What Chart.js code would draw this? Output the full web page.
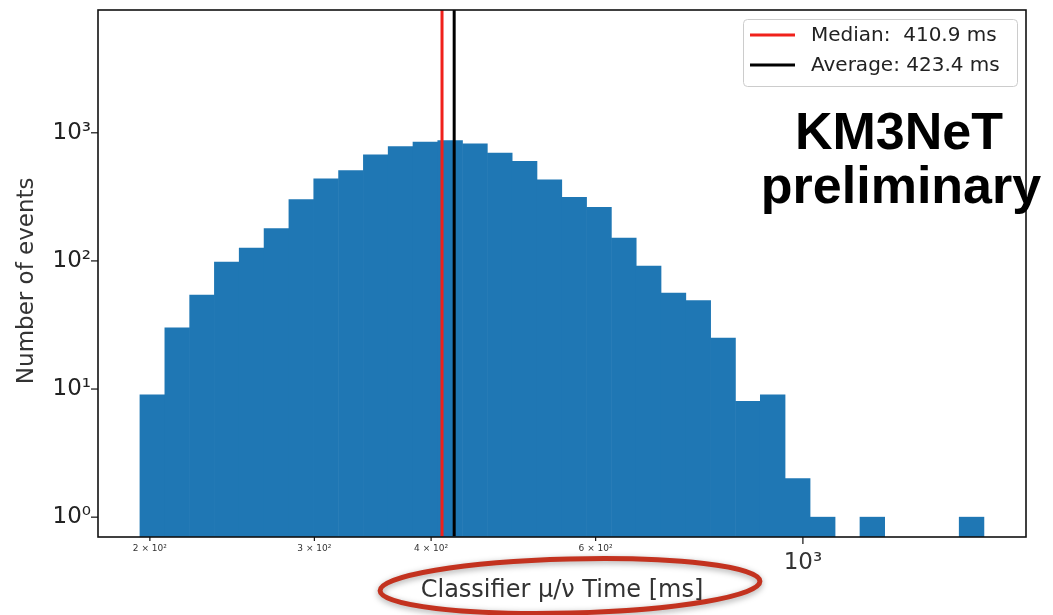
<!DOCTYPE html>
<html><head><meta charset="utf-8">
<script src="https://cdn.jsdelivr.net/npm/chart.js@4.4.1/dist/chart.umd.min.js"></script>
<style>html,body{margin:0;padding:0;background:#fff}#wrap{width:1053px;height:615px}</style>
</head><body><div id="wrap"><canvas id="c" width="1053" height="615"></canvas></div>
<script>
// ---- data ----
const binEdges = [195.1,207.5,220.6,234.5,249.2,265.0,281.7,299.5,318.4,338.5,359.8,382.5,406.6,432.2,459.5,488.5,519.3,552.0,586.8,623.8,663.2,705.0,749.4,796.7,846.9,900.3,957.1,1018.4,1082.6,1150.9,1223.5,1300.6,1382.6,1469.8,1562.5];
const binCounts = [9,30,54,98,126,179,301,438,508,674,782,846,871,821,695,598,430,313,262,151,91,56,49,25,8,9,2,1,0,1,0,0,0,1];
const medianMs = 410.9;
const averageMs = 423.4;
const statLabels = ['Median:  410.9 ms', 'Average: 423.4 ms'];
const xTickValues = [200, 300, 400, 600, 1000];
const xTickLabels = ['2 × 10²', '3 × 10²', '4 × 10²', '6 × 10²', '10³'];
const yTickValues = [1, 10, 100, 1000];
const yTickLabels = ['10⁰', '10¹', '10²', '10³'];
const X_MIN = 176, X_MAX = 1733, Y_MIN = 0.711, Y_MAX = 9088;

function logTicks(lo, hi) {
  const out = [];
  for (let k = Math.floor(Math.log10(lo)); k <= Math.ceil(Math.log10(hi)); k++) {
    for (let m = 1; m <= 9; m++) {
      const v = m * Math.pow(10, k);
      if (v >= lo && v <= hi) out.push(Number(v.toPrecision(6)));
    }
  }
  return out;
}
const FONT = 'DejaVu Sans';
const barData = binCounts.map((c, i) => ({ x: Math.sqrt(binEdges[i] * binEdges[i + 1]), y: c > 0 ? c : null }));

const decor = {
  id: 'decor',
  afterDraw(chart) {
    const { ctx, chartArea: a, scales: { x, y } } = chart;
    ctx.save();
    // frame
    ctx.strokeStyle = '#111'; ctx.lineWidth = 1.6;
    ctx.strokeRect(a.left, a.top, a.right - a.left, a.bottom - a.top);
    // tick marks
    ctx.lineWidth = 1.2;
    y.ticks.forEach(t => {
      const p = y.getPixelForValue(t.value);
      const major = yTickValues.includes(t.value);
      ctx.beginPath(); ctx.moveTo(a.left, p); ctx.lineTo(a.left - (major ? 7 : 4), p); ctx.stroke();
    });
    x.ticks.forEach(t => {
      const p = x.getPixelForValue(t.value);
      const major = t.value === 1000;
      ctx.beginPath(); ctx.moveTo(p, a.bottom); ctx.lineTo(p, a.bottom + (major ? 7 : 4)); ctx.stroke();
    });
    // legend
    const bx = a.right - 283, by = a.top + 9, bw = 274, bh = 67;
    ctx.fillStyle = 'rgba(255,255,255,0.85)'; ctx.strokeStyle = '#cccccc'; ctx.lineWidth = 1;
    ctx.beginPath(); ctx.roundRect(bx + 0.5, by + 0.5, bw, bh, 4); ctx.fill(); ctx.stroke();
    const lines = chart.data.datasets.filter(d => d.type === 'line');
    lines.forEach((d, i) => {
      const yy = by + 16 + i * 30;
      ctx.strokeStyle = d.borderColor; ctx.lineWidth = 3;
      ctx.beginPath(); ctx.moveTo(bx + 7, yy); ctx.lineTo(bx + 52, yy); ctx.stroke();
      ctx.fillStyle = '#222'; ctx.font = '20px "' + FONT + '"';
      ctx.textBaseline = 'middle'; ctx.textAlign = 'left';
      ctx.fillText(d.label, bx + 68, yy + 1);
    });
    // annotation text
    ctx.fillStyle = '#000'; ctx.font = 'bold 52px "Liberation Sans"';
    ctx.textAlign = 'center'; ctx.textBaseline = 'alphabetic';
    ctx.fillText('KM3NeT', 899, 149);
    ctx.fillText('preliminary', 901, 203);
    // hand-drawn red ellipse around the x title
    ctx.shadowColor = 'rgba(0,0,0,0.35)'; ctx.shadowBlur = 6; ctx.shadowOffsetY = 2;
    ctx.strokeStyle = '#c3321f'; ctx.lineWidth = 5;
    ctx.beginPath(); ctx.ellipse(570, 586, 190, 27, -0.025, 0, Math.PI * 2); ctx.stroke();
    ctx.restore();
  }
};

new Chart(document.getElementById('c'), {
  type: 'bar',
  data: {
    datasets: [
      { type: 'line', label: statLabels[0], data: [{ x: medianMs, y: Y_MIN }, { x: medianMs, y: Y_MAX }],
        borderColor: '#f0211b', borderWidth: 3, pointRadius: 0, order: 0 },
      { type: 'line', label: statLabels[1], data: [{ x: averageMs, y: Y_MIN }, { x: averageMs, y: Y_MAX }],
        borderColor: '#000000', borderWidth: 3, pointRadius: 0, order: 1 },
      { type: 'bar', label: 'events', data: barData, backgroundColor: '#1f77b4', borderWidth: 0,
        barPercentage: 1, categoryPercentage: 1, order: 2 }
    ]
  },
  options: {
    responsive: false, devicePixelRatio: 1, animation: false, events: [],
    layout: { padding: { top: 10, right: 27, left: 0, bottom: 0 } },
    plugins: { legend: { display: false }, tooltip: { enabled: false } },
    scales: {
      x: {
        type: 'logarithmic', min: X_MIN, max: X_MAX, offset: false,
        grid: { display: false, drawTicks: false, offset: false }, border: { display: false },
        afterBuildTicks: s => { s.ticks = logTicks(X_MIN, X_MAX).map(v => ({ value: v })); },
        afterFit: s => { s.height = 78; s.paddingLeft = 0; s.paddingRight = 0; },
        ticks: {
          autoSkip: false, maxRotation: 0, minRotation: 0, padding: 6, color: '#333',
          font: c => (c.tick && c.tick.value === 1000) ? { family: FONT, size: 23, lineHeight: 1.7 } : { family: FONT, size: 9, lineHeight: 1.2 },
          callback: v => { const i = xTickValues.indexOf(v); return i >= 0 ? xTickLabels[i] : null; }
        },
        title: { display: true, text: 'Classifier μ/ν Time [ms]', color: '#333',
          font: { family: FONT, size: 24 }, padding: { top: 0, bottom: 10 } }
      },
      y: {
        type: 'logarithmic', min: Y_MIN, max: Y_MAX,
        grid: { display: false, drawTicks: false }, border: { display: false },
        afterBuildTicks: s => { s.ticks = logTicks(Y_MIN, Y_MAX).map(v => ({ value: v })); },
        afterFit: s => { s.width = 98; s.paddingTop = 0; s.paddingBottom = 0; },
        ticks: {
          autoSkip: false, padding: 7, color: '#222', font: { family: FONT, size: 23 },
          callback: v => { const i = yTickValues.indexOf(v); return i >= 0 ? yTickLabels[i] : null; }
        },
        title: { display: true, text: 'Number of events  ', color: '#333',
          font: { family: FONT, size: 23 }, padding: { top: 13, bottom: 0 } }
      }
    }
  },
  plugins: [decor]
});
</script>
</body></html>
